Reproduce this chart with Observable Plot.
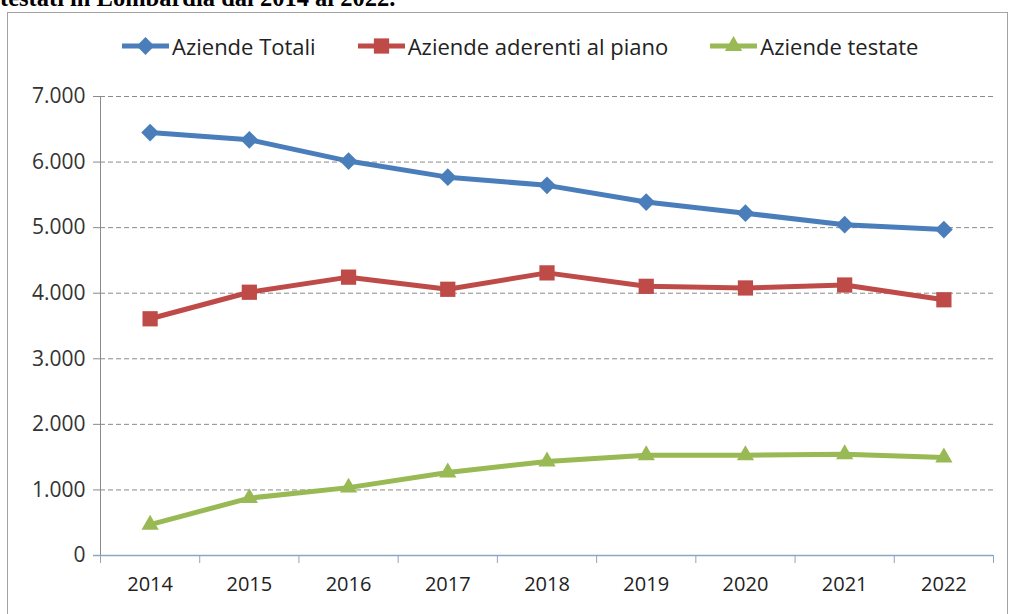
<!DOCTYPE html>
<html>
<head>
<meta charset="utf-8">
<script src="https://cdn.jsdelivr.net/npm/d3@7"></script>
<script src="https://cdn.jsdelivr.net/npm/@observablehq/plot@0.6"></script>
<style>
  html, body { margin: 0; padding: 0; background: #fff; overflow: hidden; }
  body { width: 1013px; height: 614px; position: relative; font-family: "Open Sans", sans-serif; }
  #title { position: absolute; left: 0; top: -14px; font: bold 24.5px "Liberation Serif", serif; line-height: 24px; color: #000; white-space: nowrap; }
  #frame { position: absolute; left: 7px; top: 12px; width: 1001px; height: 640px; border: 1.5px solid #a3a3a3; box-sizing: border-box; background: #fff; }
  #chart { position: absolute; left: 0; top: 0; }
  #legend { position: absolute; left: 122px; top: 31px; display: flex; gap: 42px; align-items: center; font-size: 22px; color: #222; }
  .item { display: flex; align-items: center; gap: 3px; }
</style>
</head>
<body>
<div id="title">testati in Lombardia dal 2014 al 2022.</div>
<div id="frame"></div>
<div id="chart"></div>
<div id="legend"></div>
<script>
const years = [2014, 2015, 2016, 2017, 2018, 2019, 2020, 2021, 2022];
const seriesNames = ["Aziende Totali", "Aziende aderenti al piano", "Aziende testate"];
const totali   = [6450, 6340, 6015, 5770, 5645, 5390, 5220, 5045, 4970];
const aderenti = [3610, 4015, 4245, 4060, 4310, 4105, 4080, 4125, 3900];
const testate  = [470, 875, 1035, 1265, 1435, 1530, 1530, 1545, 1495];
const yTicks = [0, 1000, 2000, 3000, 4000, 5000, 6000, 7000];
const colors = ["#4A7EBB", "#BE4B48", "#98B954"];
const symbols = ["diamond2", "square", "triangle"];
const symbolR = [8, 8.6, 6.4];

const valuesList = [totali, aderenti, testate];
const data = [];
seriesNames.forEach((s, i) => years.forEach((y, j) => data.push({series: s, year: y, value: valuesList[i][j]})));
const boundaries = years.map(y => y - 0.5).concat([years[years.length - 1] + 0.5]);

const fmt = d3.formatLocale({decimal: ",", thousands: ".", grouping: [3], currency: ["€", ""]}).format(",d");

const marks = [
  Plot.ruleY(yTicks.slice(1), {x1: boundaries[0], x2: boundaries[boundaries.length - 1], stroke: "#8a8a8a", strokeDasharray: "5,3", strokeWidth: 1}),
  Plot.ruleX([boundaries[0]], {y1: 0, y2: 7000, stroke: "#8a8a8a", strokeWidth: 1}),
  Plot.axisY({ticks: yTicks, tickSize: 7, tickPadding: 8, tickFormat: fmt, fontSize: 21, stroke: "#8a8a8a", fill: "#333", fontFamily: "Open Sans", label: null}),
  Plot.axisX({ticks: years, tickSize: 0, tickPadding: 21, tickFormat: d => String(d), fontSize: 20, fill: "#222", fontFamily: "Open Sans", label: null}),
  Plot.axisX({ticks: boundaries, tickSize: 8, tickFormat: () => "", stroke: "#8ba6c4", label: null}),
  Plot.ruleY([0], {x1: boundaries[0] - 0.07, x2: boundaries[boundaries.length - 1], stroke: "#8ba6c4", strokeWidth: 1.5})
];
seriesNames.forEach((s, i) => {
  const d = data.filter(r => r.series === s);
  marks.push(Plot.line(d, {x: "year", y: "value", stroke: colors[i], strokeWidth: 5, strokeLinejoin: "round"}));
  marks.push(Plot.dot(d, {x: "year", y: "value", symbol: () => symbols[i], r: symbolR[i], fill: colors[i], stroke: "none"}));
});

const chart = Plot.plot({
  width: 1013,
  height: 614,
  marginLeft: 100,
  marginRight: 20,
  marginTop: 96,
  marginBottom: 59,
  style: {background: "transparent", overflow: "visible"},
  x: {domain: [boundaries[0], boundaries[boundaries.length - 1]], axis: null, label: null},
  y: {domain: [0, 7000], axis: null, label: null},
  symbol: {type: "identity"},
  marks
});
document.getElementById("chart").appendChild(chart);

// legend
const legend = d3.select("#legend");
seriesNames.forEach((s, i) => {
  const item = legend.append("div").attr("class", "item");
  const svg = item.append("svg").attr("width", 47).attr("height", 24);
  svg.append("line").attr("x1", 0).attr("x2", 47).attr("y1", 12).attr("y2", 12).attr("stroke", colors[i]).attr("stroke-width", 5);
  const symType = [d3.symbolDiamond2, d3.symbolSquare, d3.symbolTriangle][i];
  svg.append("path").attr("d", d3.symbol(symType, Math.PI * symbolR[i] * symbolR[i])()).attr("transform", "translate(23.5,12)").attr("fill", colors[i]);
  item.append("span").text(s);
});
</script>
</body>
</html>
